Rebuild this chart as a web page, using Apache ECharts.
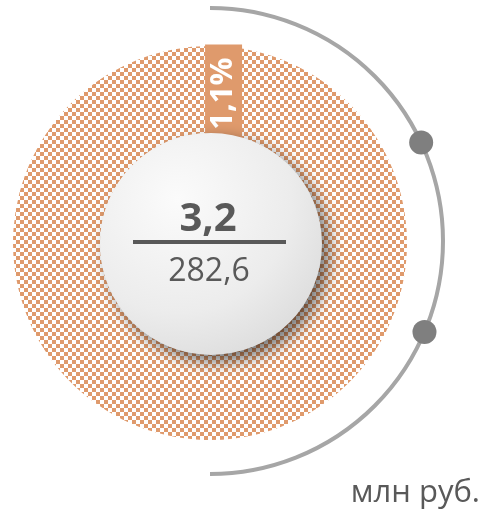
<!DOCTYPE html>
<html>
<head>
<meta charset="utf-8">
<style>
  html, body { margin: 0; padding: 0; background: #ffffff; }
  #chart { width: 481px; height: 510px; }
</style>
<script src="https://cdn.jsdelivr.net/npm/echarts@6/dist/echarts.min.js"></script>
</head>
<body>
<div id="chart"></div>
<script>
// Share of the part in the total, million rubles
const sliceNames = ['Доля', 'Прочее'];
const sliceValues = [3.2, 279.4];
const centerValues = [3.2, 282.6];   // numerator / denominator shown in the middle
const unitLabel = 'млн руб.';

const ORANGE = '#df9a6c';
const TEXT_DARK = '#595959';
const FONT = '"Open Sans", "Noto Sans", sans-serif';

// 4px checkerboard fill for the remaining share
function checkerPattern(color, cell) {
  const c = document.createElement('canvas');
  c.width = cell * 2;
  c.height = cell * 2;
  const ctx = c.getContext('2d');
  ctx.fillStyle = '#ffffff';
  ctx.fillRect(0, 0, c.width, c.height);
  ctx.fillStyle = color;
  ctx.fillRect(0, 0, cell, cell);
  ctx.fillRect(cell, cell, cell, cell);
  return c;
}

const fmt = v => String(v).replace('.', ',');

const chart = echarts.init(document.getElementById('chart'), null, { renderer: 'canvas' });

const pieCenter = [210, 243];
const ringOuter = 197;
const ringInner = 110;
const disc = { cx: 211, cy: 244, r: 111 };
const guide = { cx: 210, cy: 241, r: 233 };
const dotAngles = [-25, 23];   // degrees from the horizontal, positive downward

chart.setOption({
  animation: false,
  series: [{
    type: 'pie',
    center: pieCenter,
    radius: [ringInner, ringOuter],
    startAngle: 90,
    clockwise: true,
    silent: true,
    avoidLabelOverlap: false,
    emphasis: { disabled: true },
    labelLine: { show: false },
    data: sliceNames.map((name, i) => ({
      name,
      value: sliceValues[i],
      itemStyle: i === 0
        ? { color: ORANGE }
        : { color: { image: checkerPattern(ORANGE, 4), repeat: 'repeat' } },
      label: i === 0 ? {
        show: true,
        position: 'inside',
        rotate: 90,
        formatter: p => p.percent.toFixed(1).replace('.', ',') + '%',
        color: '#ffffff',
        fontFamily: FONT,
        fontWeight: 'bold',
        fontSize: 31,
        lineHeight: 30,
        backgroundColor: ORANGE,
        padding: [3, 13, 4, 8]
      } : { show: false }
    })),
    // offsets act in the label's rotated frame (dx along the text, dy across it)
    labelLayout: function () {
      return { dx: -4.5, dy: 8 };
    }
  }],
  graphic: [
    // guide arc with two markers
    {
      type: 'arc', z: 50, silent: true,
      shape: { cx: guide.cx, cy: guide.cy, r: guide.r, startAngle: -Math.PI / 2, endAngle: Math.PI / 2, clockwise: true },
      style: { stroke: '#a6a6a6', lineWidth: 4, fill: null }
    },
    ...dotAngles.map(a => ({
      type: 'circle', z: 51, silent: true,
      shape: {
        cx: guide.cx + guide.r * Math.cos(a * Math.PI / 180),
        cy: guide.cy + guide.r * Math.sin(a * Math.PI / 180),
        r: 12
      },
      style: { fill: '#7f7f7f' }
    })),
    // central disc
    {
      type: 'circle', z: 60, silent: true,
      shape: { cx: disc.cx, cy: disc.cy, r: disc.r },
      style: {
        fill: {
          type: 'radial', x: 0.35, y: 0.3, r: 0.85,
          colorStops: [
            { offset: 0, color: '#fbfbfb' },
            { offset: 0.6, color: '#ececec' },
            { offset: 1, color: '#d8d8d8' }
          ]
        },
        shadowBlur: 16,
        shadowOffsetX: 7,
        shadowOffsetY: 7,
        shadowColor: 'rgba(0,0,0,0.55)'
      }
    },
    {
      type: 'text', z: 61, silent: true,
      x: 208, y: 220,
      style: {
        text: fmt(centerValues[0]),
        fill: TEXT_DARK,
        font: 'bold 40px ' + FONT,
        align: 'center',
        verticalAlign: 'middle'
      }
    },
    {
      type: 'rect', z: 61, silent: true,
      shape: { x: 133, y: 240, width: 153, height: 4 },
      style: { fill: TEXT_DARK }
    },
    {
      type: 'text', z: 61, silent: true,
      x: 209, y: 272,
      style: {
        text: fmt(centerValues[1]),
        fill: TEXT_DARK,
        font: '32px ' + FONT,
        align: 'center',
        verticalAlign: 'middle'
      }
    },
    {
      type: 'text', z: 61, silent: true,
      x: 480, y: 493,
      style: {
        text: unitLabel,
        fill: TEXT_DARK,
        font: '31px ' + FONT,
        align: 'right',
        verticalAlign: 'middle'
      }
    }
  ]
});
</script>
</body>
</html>
